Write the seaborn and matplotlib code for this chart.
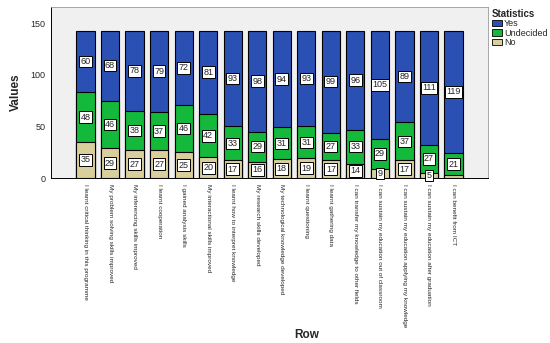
import numpy as np
import pandas as pd
import matplotlib
matplotlib.use('Agg')
import matplotlib.pyplot as plt
import seaborn as sns
from matplotlib.patches import Patch

items = ['I learnt critical thinking in this programme',
         'My problem solving skills improved',
         'My inferencing skills improved',
         'I learnt cooperation',
         'I gained analysis skills',
         'My interactional skills improved',
         'I learnt how to interpret knowledge',
         'My research skills developed',
         'My technological knowledge developed',
         'I learnt questioning',
         'I learnt gathering data',
         'I can transfer my knowledge to other fields',
         'I can sustain my education out of classroom',
         'I can sustain my education applying my knowledge',
         'I can sustain my education after graduation',
         'I can benefit from ICT']
no = [35, 29, 27, 27, 25, 20, 17, 16, 18, 19, 17, 14, 9, 17, 5, 3]
undecided = [48, 46, 38, 37, 46, 42, 33, 29, 31, 31, 27, 33, 29, 37, 27, 21]
yes = [60, 68, 78, 79, 72, 81, 93, 98, 94, 93, 99, 96, 105, 89, 111, 119]

c_yes = '#2b50b3'
c_und = '#14b83a'
c_no = '#d9cf9c'

df = pd.DataFrame({'Row': items, 'No': no, 'Undecided': undecided, 'Yes': yes})
df['top'] = df['No'] + df['Undecided'] + df['Yes']
df['mid'] = df['No'] + df['Undecided']

sns.set_style('white')
plt.rcParams['font.family'] = ['Liberation Sans', 'DejaVu Sans']
fig = plt.figure(figsize=(5.5, 3.43), dpi=100)
ax = fig.add_axes([0.093, 0.481, 0.794, 0.499])
ax.set_facecolor('#f0f0f0')

# stacked look: draw cumulative heights over each other
for col, c in [('top', c_yes), ('mid', c_und), ('No', c_no)]:
    sns.barplot(data=df, x='Row', y=col, color=c, width=0.74, ax=ax,
                edgecolor='black', linewidth=0.8, saturation=1)

box = dict(boxstyle='square,pad=0.15', fc='white', ec='black', lw=0.7)
for i in range(len(items)):
    segs = [(0, no[i]), (no[i], undecided[i]), (no[i] + undecided[i], yes[i])]
    for base, v in segs:
        if v < 5:
            continue
        ax.text(i, base + v / 2, str(v), ha='center', va='center',
                fontsize=6.5, bbox=box)

ax.set_xlim(-1.4, len(items) - 1 + 1.4)
ax.set_ylim(0, 166)
ax.set_yticks([0, 50, 100, 150])
ax.tick_params(axis='y', labelsize=6.5, length=3, width=0.7, pad=1)
ax.tick_params(axis='x', labelsize=4.6, length=3, width=0.7, pad=1,
               labelrotation=270)
for lab in ax.get_xticklabels():
    lab.set_va('top')
    lab.set_ha('center')
for s in ['top', 'right']:
    ax.spines[s].set_color('#999999')
    ax.spines[s].set_linewidth(0.6)
for s in ['left', 'bottom']:
    ax.spines[s].set_color('black')
    ax.spines[s].set_linewidth(0.7)

ax.set_ylabel('Values', fontsize=8.5, fontweight='bold', labelpad=6)
ax.set_xlabel('')
fig.text(0.558, 0.005, 'Row', ha='center', va='bottom', fontsize=8.5,
         fontweight='bold')

handles = [Patch(fc=c_yes, ec='black', lw=0.6, label='Yes'),
           Patch(fc=c_und, ec='black', lw=0.6, label='Undecided'),
           Patch(fc=c_no, ec='black', lw=0.6, label='No')]
leg = fig.legend(handles=handles, title='Statistics', loc='upper left',
                 bbox_to_anchor=(0.885, 0.99), frameon=False, fontsize=6.5,
                 title_fontsize=7, handlelength=1.1, handleheight=0.7,
                 handletextpad=0.2, labelspacing=0.05, borderpad=0.1)
leg.get_title().set_fontweight('bold')
leg._legend_box.align = 'left'

fig.savefig('out.png', dpi=100)
